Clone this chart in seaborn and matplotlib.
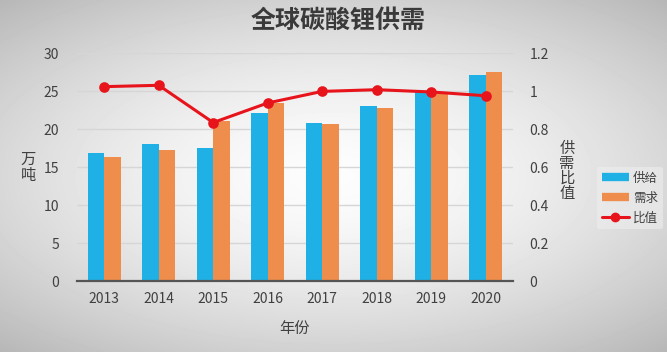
import numpy as np
import pandas as pd
import matplotlib
matplotlib.use("Agg")
import matplotlib.pyplot as plt
import seaborn as sns
from matplotlib.lines import Line2D

years = ["2013", "2014", "2015", "2016", "2017", "2018", "2019", "2020"]
supply = [16.8, 18.0, 17.5, 22.1, 20.8, 23.0, 25.0, 27.1]
demand = [16.3, 17.3, 21.0, 23.4, 20.7, 22.8, 24.9, 27.5]
ratio = [1.023, 1.03, 0.834, 0.937, 0.998, 1.007, 0.995, 0.975]
series_names = ["供给", "需求"]
ratio_name = "比值"

sns.set_theme(style="white")
plt.rcParams["font.family"] = ["Noto Sans CJK SC", "DejaVu Sans"]

blue = "#1fb1e6"
orange = "#ee8d4c"
red = "#e8141c"

df = pd.DataFrame({
    "year": years * 2,
    "value": supply + demand,
    "series": [series_names[0]] * len(years) + [series_names[1]] * len(years),
})
rdf = pd.DataFrame({"year": years, "ratio": ratio})

fig = plt.figure(figsize=(6.67, 3.52), dpi=100)

# radial gradient background
bg = fig.add_axes([0, 0, 1, 1], zorder=-10)
yy, xx = np.mgrid[-1:1:352j, -1:1:667j]
r = np.sqrt((xx * 0.9) ** 2 + (yy * 1.0) ** 2)
g = np.clip(0.99 - 0.17 * r ** 1.6, 0, 1)
bg.imshow(g, cmap="gray", vmin=0, vmax=1, aspect="auto", extent=[0, 1, 0, 1])
bg.axis("off")

ax = fig.add_axes([0.1154, 0.2017, 0.6536, 0.6477])
ax.patch.set_alpha(0)
sns.barplot(data=df, x="year", y="value", hue="series",
            palette=[blue, orange], width=0.6, gap=0, saturation=1,
            linewidth=0, ax=ax, legend=False, zorder=3)
ax.set_ylim(0, 30)
ax.set_yticks(range(0, 31, 5))
ax.set_xlim(-0.5, 7.5)
for yv in range(5, 31, 5):
    ax.axhline(yv, color="#d6d6d6", lw=1, zorder=1)
for s in ["top", "left", "right"]:
    ax.spines[s].set_visible(False)
ax.spines["bottom"].set_color("#555555")
ax.spines["bottom"].set_linewidth(1.6)
ax.spines["bottom"].set_zorder(5)
ax.tick_params(axis="both", length=0, labelsize=10, colors="#404040", pad=8)
ax.tick_params(axis="y", pad=13)
ax.set_xlabel("年份", fontsize=11, color="#404040", labelpad=10)
ax.set_ylabel("")
fig.text(0.042, 0.525, "万\n吨", fontsize=11, color="#404040",
         ha="center", va="center", linespacing=0.95)

ax2 = ax.twinx()
sns.pointplot(data=rdf, x="year", y="ratio", color=red, ax=ax2,
              markers="o", linewidth=2.2, markersize=6)
ax2.set_ylim(0, 1.2)
ax2.set_xlim(-0.5, 7.5)
ax2.set_yticks([0, 0.2, 0.4, 0.6, 0.8, 1.0, 1.2])
ax2.set_yticklabels(["0", "0.2", "0.4", "0.6", "0.8", "1", "1.2"])
ax2.tick_params(axis="y", length=0, labelsize=10, colors="#404040", pad=12)
for s in ["top", "left", "right", "bottom"]:
    ax2.spines[s].set_visible(False)
ax2.set_ylabel("")
fig.text(0.850, 0.514, "供\n需\n比\n值", fontsize=11, color="#404040",
         ha="center", va="center", linespacing=0.85)

handles = [
    Line2D([], [], color=blue, lw=6, solid_capstyle="butt"),
    Line2D([], [], color=orange, lw=6, solid_capstyle="butt"),
    Line2D([], [], color=red, lw=2.2, marker="o", markersize=6),
]
fig.legend(handles, series_names + [ratio_name], loc="center left",
           bbox_to_anchor=(0.885, 0.4375), frameon=True, fontsize=9,
           handlelength=2.2, handletextpad=0.3, labelspacing=0.55,
           borderpad=0.4, facecolor="#eeeeee", edgecolor="none",
           framealpha=0.6, labelcolor="#404040")

fig.suptitle("全球碳酸锂供需", fontsize=18, fontweight="bold",
             color="#3a3a3a", y=0.975, x=0.507)

fig.savefig("out.png", dpi=100)
